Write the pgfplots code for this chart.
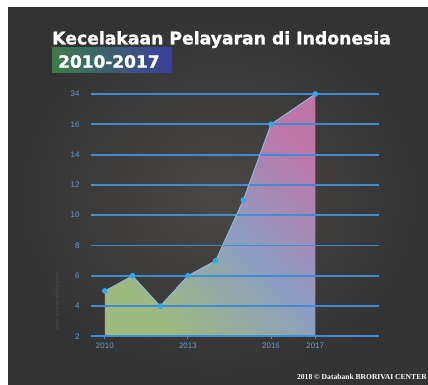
\documentclass[border=0pt]{standalone}
\usepackage{pgfplots}
\pgfplotsset{compat=1.18}
\usepackage{fontspec}
\setmainfont{Liberation Sans}
\newfontfamily\titlefont{DejaVu Sans}[BoldFeatures={FakeBold=1.3}]
\newfontfamily\footfont{Liberation Serif}
\definecolor{bgdark}{HTML}{333333}
\definecolor{bglight}{HTML}{4A4846}
\definecolor{gridblue}{HTML}{3F8CD4}
\definecolor{ticklab}{HTML}{6A9ED6}
\definecolor{markblue}{HTML}{2FAAF0}
\definecolor{edgeblue}{HTML}{8CC4EC}
\definecolor{areagreen}{HTML}{9EBA7E}
\definecolor{areablue}{HTML}{8C9EC2}
\definecolor{areapink}{HTML}{BE76A8}
\definecolor{boxgreen}{HTML}{3E7C4A}
\definecolor{boxblue}{HTML}{3B3F9C}
\pgfplotsset{
  frame/.style={
    at={(91bp,48.6bp)}, anchor=south west,
    scale only axis, width=288bp, height=242.4bp,
    xmin=-0.5, xmax=9.9, ymin=2, ymax=18,
    clip=false,
    axis line style={draw=none},
  }
}
\begin{document}
\begin{tikzpicture}[x=1bp,y=1bp]
\fill[white] (0,0) rectangle (428,385);
\shade[inner color=bglight, outer color=bgdark] (8,0) rectangle (428,377);
\shade[left color=boxgreen, right color=boxblue] (52,312) rectangle (172,337);
\node[anchor=base west, inner sep=0, text=white, font=\titlefont\bfseries\fontsize{17.3}{20}\selectfont] at (52,340.7) {Kecelakaan Pelayaran di Indonesia};
\node[anchor=base west, inner sep=0, text=white, font=\titlefont\bfseries\fontsize{17}{20}\selectfont] at (58,317.3) {2010-2017};
\node[anchor=base east, inner sep=0, text=white, font=\footfont\bfseries\fontsize{7.6}{9}\selectfont] at (427,6) {2018 © Databank BRORIVAI CENTER};
\node[rotate=90, text=white, opacity=0.13, font=\fontsize{5.5}{6}\selectfont] at (57,83) {www.brorivaicenter.com};
\begin{axis}[frame, xtick=\empty, ytick=\empty]
\addplot[draw=none, top color=areapink, bottom color=areagreen, middle color=areablue, shading angle=-45]
  coordinates {(0,2) (0,5) (1,6) (2,4) (3,6) (4,7) (5,11) (6,16) (7.6,18) (7.6,2)} --cycle;
\end{axis}
\begin{axis}[
  frame,
  xtick={0,3,6,7.6}, xticklabels={2010,2013,2016,2017},
  ytick={2,4,...,18}, yticklabels={2,4,6,8,10,12,14,16,34},
  xtick pos=bottom, ytick pos=left,
  tick align=outside, major tick length=3bp,
  xtick style={draw=gridblue, line width=1bp},
  ytick style={draw=none},
  ymajorgrids,
  major grid style={draw=gridblue, line width=1.9bp},
  tick label style={text=ticklab, font=\fontsize{8}{9}\selectfont},
  yticklabel style={xshift=-5bp},
]
\addplot[color=edgeblue, line width=0.8bp, mark=*, mark size=2.4bp, mark options={fill=markblue, draw=markblue}]
  coordinates {(0,5) (1,6) (2,4) (3,6) (4,7) (5,11) (6,16) (7.6,18)};
\end{axis}
\pgfresetboundingbox
\path[use as bounding box] (0,0) rectangle (428,385);
\end{tikzpicture}
\end{document}
